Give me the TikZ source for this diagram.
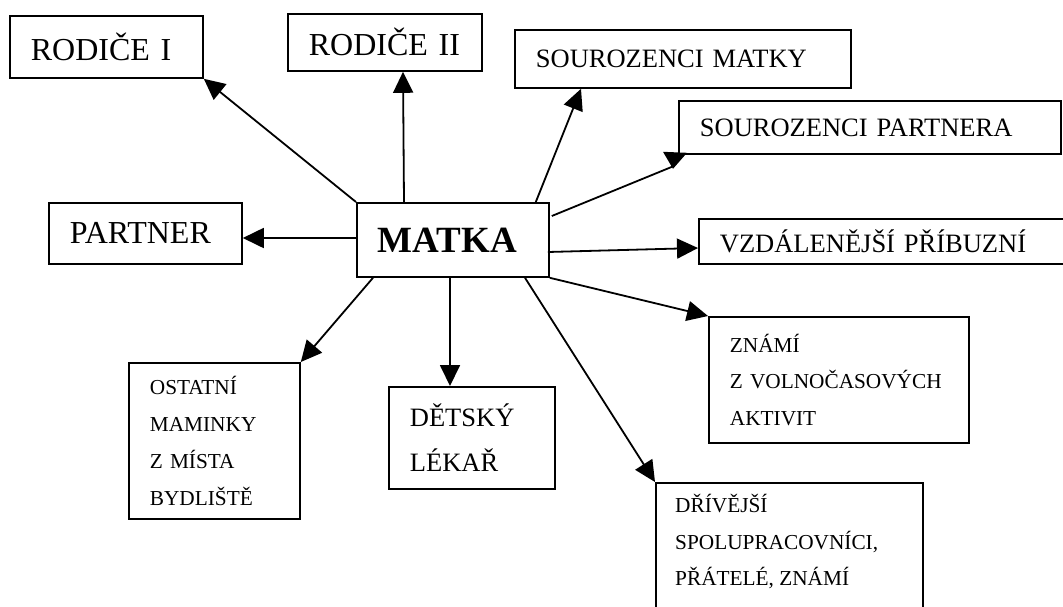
\documentclass[tikz,border=0pt]{standalone}
\usepackage{fontspec}
\setmainfont{Liberation Serif}
\usetikzlibrary{arrows.meta,calc}
\begin{document}
\begin{tikzpicture}[x=1pt,y=-1pt,
  box/.style={draw,line width=1.8pt,rectangle,anchor=north west,inner xsep=21pt,inner ysep=0pt,align=left},
  conn/.style={line width=1.8pt,-{Triangle[length=21pt,width=20pt]}},
  big/.style={font=\fontsize{32}{38}\selectfont},
  mid/.style={font=\fontsize{26.5}{32}\selectfont},
  small/.style={font=\fontsize{21.3}{36.7}\selectfont},
]
\useasboundingbox (0,0) rectangle (1063,606);

\node[box,big,text width=151pt,minimum height=62pt] (rod1) at (9,15) {RODIČE I};
\node[box,big,text width=152pt,minimum height=57pt] (rod2) at (287,13) {RODIČE II};
\node[box,mid,text width=294pt,minimum height=58pt] (smatky) at (514,29) {SOUROZENCI MATKY};
\node[box,mid,text width=340pt,minimum height=53pt] (spartnera) at (678,100) {SOUROZENCI PARTNERA};
\node[box,mid,text width=330pt,minimum height=45pt] (vzd) at (698,218) {VZDÁLENĚJŠÍ PŘÍBUZNÍ};
\node[box,font=\fontsize{37}{44}\selectfont\bfseries,text width=150pt,minimum height=74pt] (matka) at (356,202) {MATKA};
\node[box,big,text width=151pt,minimum height=61pt] (partner) at (48,202) {PARTNER};
\node[box,font=\fontsize{21.3}{37}\selectfont,text width=129pt,minimum height=156pt] (ostatni) at (128,362) {OSTATNÍ\\MAMINKY\\Z MÍSTA\\BYDLIŠTĚ};
\node[box,font=\fontsize{26.5}{45}\selectfont,text width=124pt,minimum height=102pt] (detsky) at (388,386) {DĚTSKÝ\\LÉKAŘ};
\node[box,small,text width=218pt,minimum height=126pt] (znami) at (708,316) {ZNÁMÍ\\Z VOLNOČASOVÝCH\\AKTIVIT};
\node[draw,line width=1.8pt,rectangle,anchor=north west,inner sep=0pt,minimum width=267pt,minimum height=150pt] (drivejsi) at (655,482) {};
\node[small,anchor=north west,align=left,inner sep=0pt] (drivejsitext) at (675,494) {DŘÍVĚJŠÍ\\SPOLUPRACOVNÍCI,\\PŘÁTELÉ, ZNÁMÍ};

\draw[conn] (matka.north west) -- (rod1.south east);
\draw[conn] ($(matka.north west)+(48,0)$) -- ($(rod2.south west)+(116,0)$);
\draw[conn] ($(matka.north east)+(-14,0)$) -- ($(smatky.south west)+(67,0)$);
\draw[line width=1.8pt] ($(matka.north east)+(2,14)$) -- ($(spartnera.south west)+(-6,12)$);
\fill ($(spartnera.south west)+(-15,-3)$) -- ($(spartnera.south west)+(9,-2)$) -- ($(spartnera.south west)+(-5,14)$) -- cycle;
\draw[conn] ($(matka.north east)+(-2,50)$) -- ($(vzd.north west)+(0,30)$);
\draw[conn] (matka.south east) -- (znami.north west);
\draw[conn] ($(matka.south west)+(169,0)$) -- (drivejsi.north west);
\draw[conn] ($(matka.south west)+(94,0)$) -- ($(detsky.north west)+(62,0)$);
\draw[conn] ($(matka.south west)+(17,0)$) -- (ostatni.north east);
\draw[conn] ($(matka.north west)+(0,36)$) -- ($(partner.north east)+(0,36)$);
\end{tikzpicture}
\end{document}
